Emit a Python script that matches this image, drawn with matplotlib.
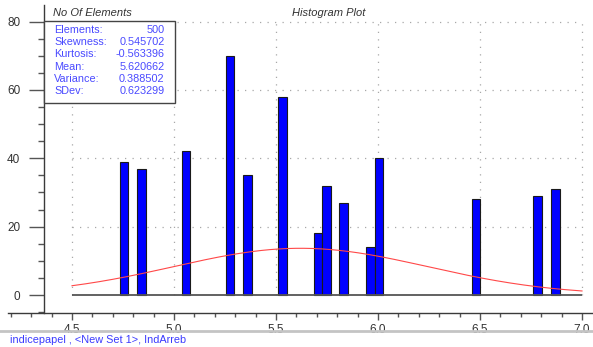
import numpy as np
import matplotlib
matplotlib.use("Agg")
import matplotlib.pyplot as plt
from matplotlib.patches import Rectangle
from matplotlib.lines import Line2D
from matplotlib.ticker import MultipleLocator, FormatStrFormatter

plt.rcParams["font.family"] = ["Liberation Sans", "DejaVu Sans"]

# Histogram bins (centre of each bar) and counts
bin_centers = [4.755, 4.842, 5.059, 5.274, 5.360, 5.532, 5.706, 5.747,
               5.832, 5.962, 6.005, 6.480, 6.783, 6.870]
counts = [39, 37, 42, 70, 35, 58, 18, 32, 27, 14, 40, 28, 29, 31]
bar_width = 0.042

# Summary statistics shown in the info box
stat_names = ["Elements:", "Skewness:", "Kurtosis:", "Mean:", "Variance:", "SDev:"]
stat_values = ["500", "0.545702", "-0.563396", "5.620662", "0.388502", "0.623299"]
n_elements = 500
mean = 5.620662
sdev = 0.623299
curve_bin = 0.0427

x_ticks = [4.5, 5.0, 5.5, 6.0, 6.5, 7.0]
y_ticks = [0, 20, 40, 60, 80]

W, H = 593, 347
fig = plt.figure(figsize=(W / 100, H / 100), dpi=100)
fig.patch.set_facecolor("white")


def fx(px):
    return px / W


def fy(py):
    return 1 - py / H


# pixel geometry of the plotting region
ppu = (295 - 21.5) / 80.0
xlo = 4.5 - (72 - 44) / 204.0
xhi = 7.0 + (593 - 582) / 204.0
ylo = -(313 - 295) / ppu
yhi = 80 + (21.5 - 5) / ppu

ax = fig.add_axes([fx(44), fy(313), fx(593) - fx(44), fy(5) - fy(313)])
ax.set_xlim(xlo, xhi)
ax.set_ylim(ylo, yhi)
ax.set_facecolor("none")
for s in ["top", "right", "bottom"]:
    ax.spines[s].set_visible(False)
ax.spines["left"].set_color("#3a3a3a")
ax.spines["left"].set_linewidth(1.0)
ax.set_xticks([])
ax.set_yticks(y_ticks)
ax.yaxis.set_minor_locator(MultipleLocator(5))
ax.tick_params(axis="y", which="major", length=11, width=1.0, color="#555555",
               labelsize=8.5, labelcolor="#333333", pad=6)
ax.tick_params(axis="y", which="minor", length=4, width=1.0, color="#555555")

# dotted grid inside the data range
grid_kw = dict(color="#a8a8a8", linestyle=(0, (1, 5)), linewidth=0.9, zorder=1)
ax.vlines(x_ticks, 0, 80, **grid_kw)
ax.hlines(y_ticks[1:], 4.5, 7.0, **grid_kw)

# bars
ax.bar(bin_centers, counts, width=bar_width, color="#0000ff",
       edgecolor="#1a1a1a", linewidth=0.8, zorder=3)

# baseline
ax.hlines(0, 4.5, 7.0, color="#555555", linewidth=1.3, zorder=4)

# fitted normal curve from the reported mean and standard deviation
xs = np.linspace(4.5, 7.0, 300)
pdf = np.exp(-0.5 * ((xs - mean) / sdev) ** 2) / (sdev * np.sqrt(2 * np.pi))
ax.plot(xs, n_elements * curve_bin * pdf, color="#ff4848", linewidth=0.8,
        zorder=5)

# statistics box
box_right = 4.5 + (175 - 72) / 204.0
box_bottom = (295 - 102.7) / ppu
ax.add_patch(Rectangle((xlo, box_bottom), box_right - xlo, 80 - box_bottom,
                       facecolor="white", edgecolor="#444444", linewidth=1.0,
                       zorder=6, clip_on=False))
row_y = [30, 42.2, 54.4, 66.6, 78.8, 91]
for name, val, ry in zip(stat_names, stat_values, row_y):
    fig.text(fx(54), fy(ry), name, ha="left", va="center", fontsize=7.8,
             color="#4a4aff", zorder=10)
    fig.text(fx(164.5), fy(ry), val, ha="right", va="center", fontsize=7.8,
             color="#4a4aff", zorder=10)

# bottom axis line with its ticks
ax2 = fig.add_axes([fx(8), fy(313), fx(593) - fx(8), 0.0001])
ax2.set_xlim(4.5 - (72 - 8) / 204.0, xhi)
ax2.set_facecolor("none")
for s in ["top", "right", "left"]:
    ax2.spines[s].set_visible(False)
ax2.spines["bottom"].set_color("#3a3a3a")
ax2.spines["bottom"].set_linewidth(1.0)
ax2.set_yticks([])
ax2.set_xticks(x_ticks)
ax2.xaxis.set_major_formatter(FormatStrFormatter("%.1f"))
ax2.xaxis.set_minor_locator(MultipleLocator(0.1))
ax2.tick_params(axis="x", which="major", length=5, width=1.0, color="#555555",
                labelsize=8.5, labelcolor="#333333", pad=3)
ax2.tick_params(axis="x", which="minor", length=3, width=1.0, color="#555555")

# titles
fig.text(fx(53), fy(13), "No Of Elements", ha="left", va="center",
         fontsize=8, style="italic", color="#333333")
fig.text(fx(329), fy(13), "Histogram Plot", ha="center", va="center",
         fontsize=8, style="italic", color="#333333")

# footer separator and data set caption
fig.add_artist(Line2D([0, 1], [fy(331), fy(331)], color="#c4c4c4",
                      linewidth=2.0))
fig.text(fx(10), fy(340), "indicepapel , <New Set 1>, IndArreb", ha="left",
         va="center", fontsize=7.8, color="#3a3aff")

fig.savefig("out.png", dpi=100, facecolor="white")
